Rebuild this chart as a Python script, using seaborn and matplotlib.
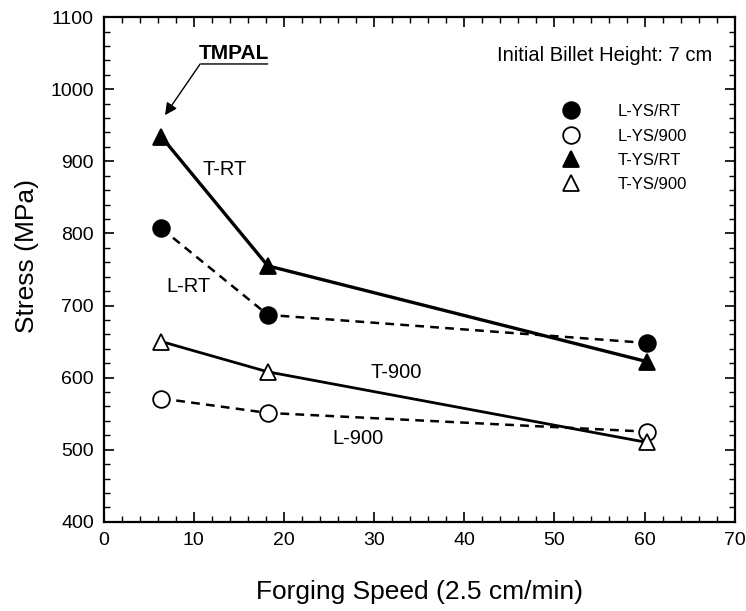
import matplotlib
matplotlib.use("Agg")
import matplotlib.pyplot as plt
import seaborn as sns
import pandas as pd
from matplotlib.lines import Line2D
from matplotlib.ticker import MultipleLocator

sns.set_theme(style="ticks")
plt.rcParams['font.family'] = ['Liberation Sans', 'DejaVu Sans']
plt.rcParams.update({"text.color": "black", "axes.labelcolor": "black",
                     "xtick.color": "black", "ytick.color": "black"})

speed = [6.4, 18.2, 60.3]
l_ys_rt = [807, 687, 648]
l_ys_900 = [571, 551, 525]
t_ys_rt = [934, 755, 622]
t_ys_900 = [650, 608, 510]
series_names = ["L-YS/RT", "L-YS/900", "T-YS/RT", "T-YS/900"]

fig = plt.figure(figsize=(7.46, 6.11), dpi=100)
ax = fig.add_axes([0.139, 0.146, 0.846, 0.826])

styles = {
    "L-YS/RT": dict(y=l_ys_rt, ls=(0, (3.5, 2.5)), lw=1.8, marker="o", mfc="black", ms=12),
    "L-YS/900": dict(y=l_ys_900, ls=(0, (3.5, 2.5)), lw=1.8, marker="o", mfc="white", ms=12),
    "T-YS/RT": dict(y=t_ys_rt, ls="-", lw=2.4, marker="^", mfc="black", ms=11),
    "T-YS/900": dict(y=t_ys_900, ls="-", lw=2.0, marker="^", mfc="white", ms=11),
}

for name in series_names:
    st = styles[name]
    df = pd.DataFrame({"x": speed, "y": st["y"]})
    sns.lineplot(data=df, x="x", y="y", ax=ax, color="black", linewidth=st["lw"],
                 linestyle=st["ls"], marker=st["marker"], markersize=st["ms"],
                 markerfacecolor=st["mfc"], markeredgecolor="black",
                 markeredgewidth=1.3, legend=False)

ax.set_xlim(0, 70)
ax.set_ylim(400, 1100)
ax.xaxis.set_major_locator(MultipleLocator(10))
ax.xaxis.set_minor_locator(MultipleLocator(2))
ax.yaxis.set_major_locator(MultipleLocator(100))
ax.yaxis.set_minor_locator(MultipleLocator(20))
ax.tick_params(which="both", direction="in", top=True, right=True, color="black")
ax.tick_params(which="major", length=7, width=1.2, labelsize=14, pad=7)
ax.tick_params(which="minor", length=4, width=1.0)
for sp in ax.spines.values():
    sp.set_linewidth(1.6)
    sp.set_color("black")

ax.set_xlabel("Forging Speed (2.5 cm/min)", fontsize=19, labelpad=23)
ax.set_ylabel("Stress (MPa)", fontsize=19)
ax.yaxis.set_label_coords(-0.103, 0.526)

# curve labels
ax.text(13.4, 888, "T-RT", fontsize=14.5, ha="center", va="center")
ax.text(9.4, 727, "L-RT", fontsize=14.5, ha="center", va="center")
ax.text(32.4, 607, "T-900", fontsize=14.5, ha="center", va="center")
ax.text(28.2, 516, "L-900", fontsize=14.5, ha="center", va="center")

# TMPAL annotation
ax.text(10.5, 1050, "TMPAL", fontsize=15, fontweight="bold", ha="left", va="center")
ax.annotate("", xy=(18.5, 1035), xytext=(10.5, 1035),
            arrowprops=dict(arrowstyle="-", color="black", lw=1.0))
ax.annotate("", xy=(6.8, 964), xytext=(10.7, 1035),
            arrowprops=dict(arrowstyle="-|>", color="black", lw=1.0,
                            mutation_scale=18, shrinkA=0, shrinkB=0))

ax.text(55.6, 1047, "Initial Billet Height: 7 cm", fontsize=14.5, ha="center", va="center")

handles = [
    Line2D([], [], ls="none", marker=styles[n]["marker"], markersize=styles[n]["ms"],
           markerfacecolor=styles[n]["mfc"], markeredgecolor="black", markeredgewidth=1.3)
    for n in series_names
]
leg = ax.legend(handles, series_names, loc="upper left", bbox_to_anchor=(0.704, 0.857),
                frameon=False, fontsize=12, handlelength=1.0, handletextpad=2.25,
                labelspacing=0.56)

fig.savefig("out.png", dpi=100)
